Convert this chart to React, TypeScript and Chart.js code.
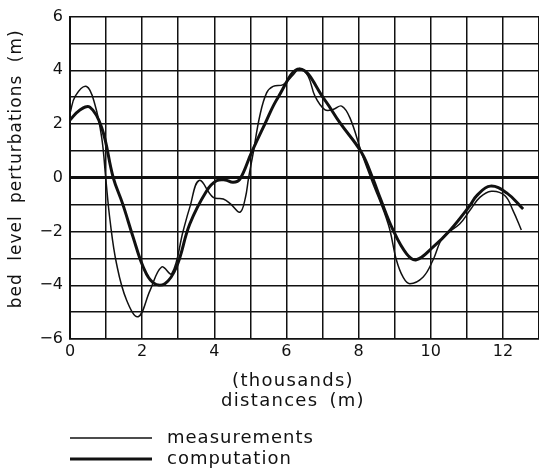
import React, { useEffect, useRef } from "react";
import { Chart, registerables } from "chart.js";

Chart.register(...registerables);

// ---- data (x in thousands of metres, y in metres) ----
const measX = [0, 0.15, 0.46, 0.69, 0.88, 0.99, 1.11, 1.29, 1.57, 1.89, 2.22, 2.54, 2.82, 3.14, 3.32, 3.58, 3.97, 4.25, 4.45, 4.71, 4.86, 4.95, 5.08, 5.26, 5.45, 5.63, 5.91, 6.19, 6.37, 6.6, 6.79, 7.06, 7.29, 7.53, 7.76, 8.08, 8.35, 8.82, 9.05, 9.23, 9.42, 9.79, 10.06, 10.34, 10.8, 11.08, 11.36, 11.68, 12.05, 12.28, 12.51];
const measY = [2.4, 3.05, 3.4, 2.73, 1.49, 0, -1.59, -3.2, -4.56, -5.17, -4.19, -3.32, -3.57, -1.96, -1.1, -0.1, -0.73, -0.79, -0.97, -1.28, -0.75, 0, 0.94, 2.3, 3.16, 3.4, 3.47, 3.84, 4.07, 3.78, 3.04, 2.54, 2.54, 2.67, 2.23, 0.94, -0.05, -1.72, -3.07, -3.69, -3.94, -3.69, -3.07, -2.21, -1.72, -1.22, -0.73, -0.5, -0.66, -1.22, -1.94];

const compX = [0, 0.25, 0.55, 0.88, 1.2, 1.46, 1.75, 2.03, 2.3, 2.63, 2.95, 3.32, 3.79, 4.06, 4.3, 4.52, 4.71, 5.03, 5.4, 5.77, 6.37, 7.06, 7.48, 8.08, 8.4, 8.59, 8.96, 9.33, 9.6, 10.06, 10.53, 11.08, 11.27, 11.65, 12.12, 12.56];
const compY = [2.15, 2.5, 2.63, 1.86, 0, -0.97, -2.21, -3.32, -3.9, -3.94, -3.32, -1.72, -0.48, -0.11, -0.08, -0.17, -0.05, 0.94, 2.0, 3.0, 4.05, 2.9, 2.05, 0.94, -0.05, -0.73, -1.96, -2.83, -3.05, -2.58, -1.96, -1.04, -0.67, -0.31, -0.58, -1.16];

const xTickLabels = [0, 2, 4, 6, 8, 10, 12];
const yTickLabels = [-6, -4, -2, 0, 2, 4, 6];

const seriesNames = ["measurements", "computation"];
const yTitle = "bed level perturbations (m)";
const xTitle = ["(thousands)", "distances (m)"];

const INK = "#111111";
const FONT = '"DejaVu Sans", sans-serif';

const fmt = (v: number) => (v < 0 ? "\u2212" + Math.abs(v) : String(v));

const textPlugin = {
  id: "textPlugin",
  afterDraw(chart: any) {
    const ctx = chart.ctx as CanvasRenderingContext2D;
    const area = chart.chartArea;
    ctx.save();
    ctx.fillStyle = INK;
    // y axis title
    ctx.save();
    ctx.font = "17px " + FONT;
    (ctx as any).letterSpacing = "1px";
    (ctx as any).wordSpacing = "6px";
    ctx.textAlign = "center";
    ctx.textBaseline = "middle";
    ctx.translate(17, (area.top + area.bottom) / 2 - 9);
    ctx.rotate(-Math.PI / 2);
    ctx.fillText(yTitle, 0, 0);
    ctx.restore();

    // x axis title (two lines)
    ctx.save();
    ctx.font = "18px " + FONT;
    (ctx as any).letterSpacing = "1.3px";
    (ctx as any).wordSpacing = "4px";
    ctx.textAlign = "center";
    ctx.textBaseline = "middle";
    const cx = area.left + 223;
    ctx.fillText(xTitle[0], cx, area.bottom + 42);
    ctx.fillText(xTitle[1], cx, area.bottom + 62);
    ctx.restore();

    // legend
    ctx.save();
    ctx.font = "18px " + FONT;
    (ctx as any).letterSpacing = "1px";
    ctx.textAlign = "left";
    ctx.textBaseline = "alphabetic";
    const rows = [area.bottom + 99, area.bottom + 120];
    chart.data.datasets.forEach((ds: any, i: number) => {
      const y = rows[i];
      ctx.strokeStyle = ds.borderColor;
      ctx.lineWidth = ds.borderWidth;
      ctx.beginPath();
      ctx.moveTo(area.left, y);
      ctx.lineTo(area.left + 82, y);
      ctx.stroke();
      ctx.fillText(ds.label, area.left + 97, y + 4.5);
    });
    ctx.restore();
    ctx.restore();
  },
};

export default function App() {
  const ref = useRef<HTMLCanvasElement>(null);
  useEffect(() => {
    document.body.style.margin = "0";
    const canvas = ref.current!;
    const chart = new Chart(canvas, {
      type: "line",
      data: {
        datasets: [
          {
            label: seriesNames[0],
            data: measX.map((x, i) => ({ x, y: measY[i] })),
            borderColor: INK,
            borderWidth: 1.5,
            pointRadius: 0,
            tension: 0.4,
            fill: false,
          },
          {
            label: seriesNames[1],
            data: compX.map((x, i) => ({ x, y: compY[i] })),
            borderColor: INK,
            borderWidth: 3,
            pointRadius: 0,
            tension: 0.4,
            fill: false,
          },
        ],
      },
      options: {
        animation: false,
        responsive: false,
        devicePixelRatio: 1,
        layout: { padding: { top: 15, left: 0, right: 0, bottom: 0 } },
        plugins: { legend: { display: false }, tooltip: { enabled: false } },
        scales: {
          x: {
            type: "linear",
            min: 0,
            max: 13,
            afterFit: (s: any) => {
              s.height = 133;
              s.paddingLeft = 0;
              s.paddingRight = 0;
            },
            border: { display: true, color: INK, width: 1.5 },
            grid: { color: INK, lineWidth: 1.5, drawTicks: false },
            ticks: {
              stepSize: 1,
              autoSkip: false,
              maxRotation: 0,
              padding: 3,
              color: INK,
              font: { family: FONT, size: 16 },
              callback: (v: any) => (xTickLabels.includes(Number(v)) ? fmt(Number(v)) : ""),
            },
          },
          y: {
            type: "linear",
            min: -6,
            max: 6,
            afterFit: (s: any) => {
              s.width = 70;
            },
            border: { display: true, color: INK, width: 2 },
            grid: {
              color: INK,
              lineWidth: (c: any) => (c.tick && c.tick.value === 0 ? 3 : 1.5),
              drawTicks: false,
            },
            ticks: {
              stepSize: 1,
              autoSkip: false,
              padding: 7,
              color: INK,
              font: { family: FONT, size: 16 },
              callback: (v: any) => (yTickLabels.includes(Number(v)) ? fmt(Number(v)) : ""),
            },
          },
        },
      },
      plugins: [textPlugin],
    });
    return () => chart.destroy();
  }, []);
  return (
    <div style={{ position: "absolute", left: 0, top: 0, width: 539, height: 472, background: "#fff" }}>
      <canvas ref={ref} width={539} height={472} style={{ display: "block" }} />
    </div>
  );
}
